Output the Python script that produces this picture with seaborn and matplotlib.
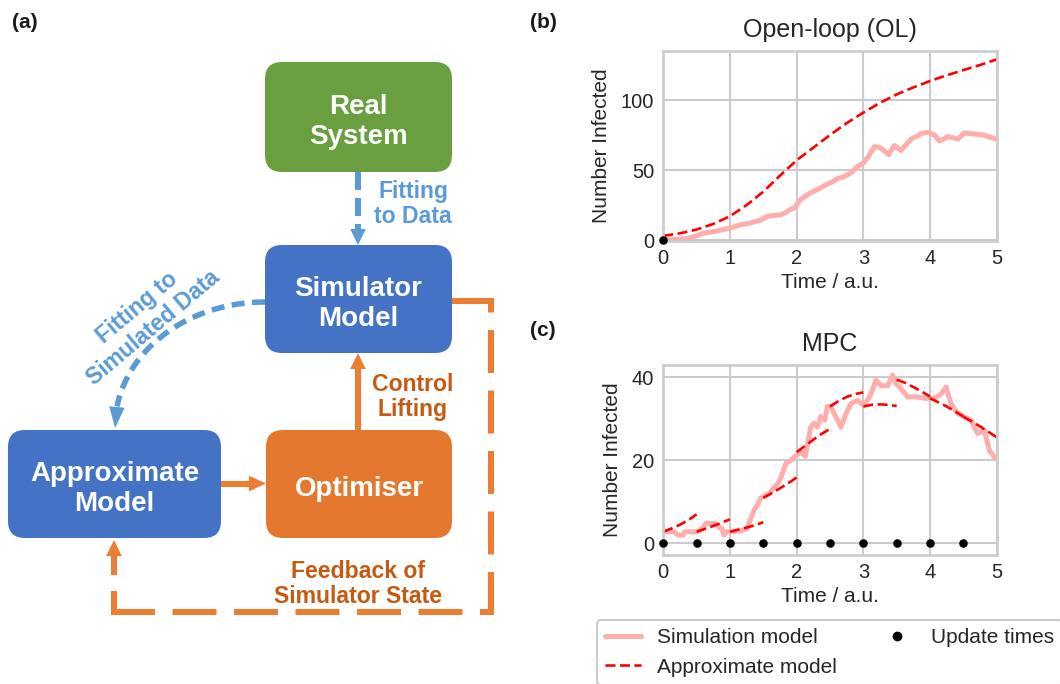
import matplotlib
matplotlib.use("Agg")
import numpy as np
import matplotlib.pyplot as plt
import seaborn as sns
from matplotlib.patches import FancyBboxPatch, Polygon
from matplotlib.lines import Line2D

# ---------------- data ----------------
# (b) open-loop: stochastic simulation and approximate model prediction
ol_sim_t = [0.0, 0.2, 0.36, 0.5, 0.61, 0.75, 0.86, 1.0, 1.1, 1.16, 1.3, 1.36, 1.45,
            1.56, 1.65, 1.76, 1.85, 1.91, 1.97, 2.06, 2.15, 2.26, 2.35, 2.46, 2.55,
            2.615, 2.7, 2.815, 2.9, 3.0, 3.08, 3.165, 3.25, 3.315, 3.38, 3.465, 3.565,
            3.64, 3.715, 3.8, 3.865, 3.965, 4.065, 4.14, 4.2, 4.265, 4.35, 4.415,
            4.515, 4.6, 4.715, 4.8, 4.865, 4.93, 5.0]
ol_sim_n = [0, 0.5, 1, 3, 5, 6, 7, 8.5, 10, 11, 12, 13, 14,
            17, 17.5, 18, 20, 22, 23, 29, 32, 35, 37, 40, 42,
            44, 45, 48, 52, 55, 60, 66.7, 66, 63.6, 61, 67.5, 64,
            68, 72, 74, 76, 77, 75, 70.7, 72, 74, 73, 72,
            76.5, 76, 75.5, 75, 74, 73, 72]
ol_approx_t = [0.0, 0.25, 0.5, 0.75, 1.0, 1.25, 1.5, 1.75, 2.0, 2.25, 2.5,
               2.75, 3.0, 3.25, 3.5, 3.75, 4.0, 4.25, 4.5, 4.75, 5.0]
ol_approx_n = [3, 4.8, 7.5, 11.5, 17, 25, 34.5, 46, 57, 66, 75,
               83.5, 91, 98, 104, 109, 113.6, 117.6, 121.4, 125, 129]
ol_update_t = [0.0]

# (c) MPC: simulation, re-fitted approximate model over each horizon, update times
mpc_sim_t = [0.0, 0.16, 0.22, 0.3, 0.32, 0.5, 0.58, 0.64, 0.79, 0.84, 0.88, 0.91,
             0.95, 1.0, 1.16, 1.26, 1.3, 1.36, 1.42, 1.46, 1.59, 1.66, 1.72, 1.76,
             1.8, 1.84, 1.91, 2.0, 2.06, 2.13, 2.17, 2.21, 2.26, 2.31, 2.36, 2.42,
             2.46, 2.515, 2.57, 2.615, 2.665, 2.74, 2.815, 2.915, 3.0, 3.06, 3.115,
             3.19, 3.265, 3.365, 3.44, 3.49, 3.565, 3.665, 3.815, 3.915, 4.065,
             4.165, 4.24, 4.315, 4.415, 4.515, 4.615, 4.715, 4.815, 4.89, 4.965, 5.0]
mpc_sim_n = [2.8, 2.8, 2.0, 2.0, 2.8, 2.8, 3.5, 4.8, 4.8, 3.8, 3.6, 2.0,
             2.8, 2.8, 3.0, 3.6, 5.5, 8.0, 9.5, 10.9, 12.0, 13.5, 14.5, 15.7,
             17.5, 19.3, 20.0, 21.3, 22.0, 21.0, 24.5, 28.0, 29.0, 28.0, 30.6, 29.7,
             33.0, 33.0, 31.0, 29.7, 28.0, 31.3, 33.7, 34.5, 33.3, 34.5, 36.0,
             39.4, 38.0, 38.0, 40.6, 38.5, 37.3, 35.3, 35.3, 35.0, 35.0,
             36.0, 37.7, 33.7, 31.3, 30.5, 29.7, 26.5, 27.3, 22.4, 20.8, 20.8]
mpc_update_t = [0.0, 0.5, 1.0, 1.5, 2.0, 2.5, 3.0, 3.5, 4.0, 4.5]
mpc_horizon = [0.0, 0.125, 0.25, 0.375, 0.5]
mpc_approx_n = [
    [2.8, 3.6, 4.5, 5.6, 7.0],
    [2.8, 3.5, 4.2, 5.0, 5.8],
    [2.8, 3.3, 3.8, 4.4, 5.1],
    [11.0, 12.1, 13.3, 14.5, 15.9],
    [22.0, 23.5, 25.0, 26.4, 27.6],
    [33.0, 34.3, 35.3, 36.0, 36.4],
    [33.0, 33.4, 33.5, 33.4, 33.1],
    [39.5, 38.7, 37.7, 36.6, 35.4],
    [35.0, 34.0, 33.0, 31.8, 30.6],
    [30.5, 29.4, 28.2, 26.9, 25.6],
]

legend_labels = ["Simulation model", "Approximate model", "Update times"]

# ---------------- style ----------------
sns.set_theme(style="whitegrid")
plt.rcParams.update({
    "axes.edgecolor": "0.8",
    "axes.linewidth": 1.9,
    "grid.color": "0.8",
    "grid.linewidth": 1.5,
    "text.color": "0.15",
    "axes.labelcolor": "0.15",
    "xtick.color": "0.15",
    "ytick.color": "0.15",
    "xtick.labelsize": 14.5,
    "ytick.labelsize": 14.5,
    "axes.labelsize": 15,
    "axes.titlesize": 18,
    "xtick.major.size": 0,
    "ytick.major.size": 0,
    "xtick.major.pad": 5.5,
    "ytick.major.pad": 6.5,
    "lines.scale_dashes": False,
})
plt.rcParams["font.family"] = ["Liberation Sans", "DejaVu Sans"]

W, H = 1060, 684
PT = 72 / 100  # points per pixel at 100 dpi

SIM_C = "#ffadad"
APP_C = "red"
SIM_LW = 3.6
APP_LW = 1.9
APP_LS = (0, (7.2, 3.2))

fig = plt.figure(figsize=(W / 100, H / 100), dpi=100)

# ---------------- (a) workflow diagram, drawn in pixel units ----------------
dg = fig.add_axes([0, 0, 1, 1], zorder=0)
dg.set_xlim(0, W)
dg.set_ylim(H, 0)
dg.axis("off")

GREEN = "#699f3e"
BLUE_BOX = "#4472c4"
ORANGE_BOX = "#e4782f"
ORANGE = "#ed7d31"
LBLUE = "#5b9bd5"
BROWN = "#c55a11"


def box(x0, y0, x1, y1, color, label):
    dg.add_patch(FancyBboxPatch((x0, y0), x1 - x0, y1 - y0,
                                boxstyle="round,pad=0,rounding_size=17",
                                facecolor=color, edgecolor="none", zorder=2))
    dg.text((x0 + x1) / 2, (y0 + y1) / 2 + 5, label, ha="center", va="center",
            color="white", fontsize=20, fontweight="bold", linespacing=1.2,
            zorder=3)


def seg(xs, ys, color, lw_px, pattern=None, offset=0.0):
    if pattern is None:
        ls = "-"
    else:
        ls = (offset * PT, tuple(p * PT for p in pattern))
    dg.add_line(Line2D(xs, ys, color=color, lw=lw_px * PT, linestyle=ls,
                       solid_capstyle="butt", dash_capstyle="butt", zorder=1))


def head(tip, base, color, w=7.8):
    tx, ty = tip
    bx, by = base
    dx, dy = tx - bx, ty - by
    n = np.hypot(dx, dy)
    nx, ny = -dy / n, dx / n
    dg.add_patch(Polygon([(bx + nx * w, by + ny * w), (bx - nx * w, by - ny * w),
                          (tx, ty)], closed=True, facecolor=color,
                         edgecolor="none", zorder=1))


box(265, 62, 452, 172, GREEN, "Real\nSystem")
box(265, 245, 452, 353, BLUE_BOX, "Simulator\nModel")
box(8, 430, 221, 538, BLUE_BOX, "Approximate\nModel")
box(266, 430, 452, 538, ORANGE_BOX, "Optimiser")

# real system -> simulator (fitting to data)
seg([358, 358], [172, 231], LBLUE, 6, pattern=(18, 8))
head((358, 245), (358, 229), LBLUE)

# simulator -> approximate model (curved, fitting to simulated data)
th = np.linspace(np.pi / 2, np.deg2rad(170.5), 120)
seg(265 + 150 * np.cos(th), 427 - 125 * np.sin(th), LBLUE, 5.5, pattern=(13, 7.5))
head((115, 428), (117, 407), LBLUE)

# optimiser -> simulator (control lifting)
seg([358, 358], [430, 366], ORANGE, 6)
head((358, 353), (358, 369), ORANGE)

# approximate model -> optimiser
seg([221, 252], [483.5, 483.5], ORANGE, 6)
head((266, 483.5), (249, 483.5), ORANGE)

# feedback of simulator state
seg([452, 494], [300.7, 300.7], ORANGE, 6)
seg([491, 491], [615, 298], ORANGE, 6, pattern=(43, 17.5))
seg([111, 494], [612, 612], ORANGE, 6, pattern=(44, 17.5))
seg([114, 114], [615, 552], ORANGE, 6, pattern=(24, 16))
head((114, 540), (114, 556), ORANGE)

dg.text(413, 204, "Fitting\nto Data", ha="center", va="center", color=LBLUE,
        fontsize=16.6, fontweight="bold", linespacing=1.15)
dg.text(413, 397, "Control\nLifting", ha="center", va="center", color=BROWN,
        fontsize=16.6, fontweight="bold", linespacing=1.15)
dg.text(358, 584, "Feedback of\nSimulator State", ha="center", va="center",
        color=BROWN, fontsize=16.6, fontweight="bold", linespacing=1.15)
dg.text(145, 318, "Fitting to\nSimulated Data", ha="center", va="center",
        rotation=40, rotation_mode="anchor", multialignment="center",
        color=LBLUE, fontsize=16.6, fontweight="bold", linespacing=1.15)

# ---------------- (b) open loop ----------------
axb = fig.add_axes([663.3 / W, 1 - 241 / H, 333.4 / W, 190 / H], zorder=2)
sns.lineplot(x=ol_sim_t, y=ol_sim_n, ax=axb, color=SIM_C, lw=SIM_LW,
             estimator=None)
sns.lineplot(x=ol_approx_t, y=ol_approx_n, ax=axb, color=APP_C, lw=APP_LW,
             linestyle=APP_LS, estimator=None)
sns.scatterplot(x=ol_update_t, y=[0] * len(ol_update_t), ax=axb, color="black",
                s=38, linewidth=0, zorder=5, clip_on=False)
axb.set_xlim(0, 5)
axb.set_ylim(-0.7, 135)
axb.set_xticks([0, 1, 2, 3, 4, 5])
axb.set_yticks([0, 50, 100])
axb.set_title("Open-loop (OL)", pad=10)
axb.set_xlabel("Time / a.u.")
axb.set_ylabel("Number Infected", labelpad=7)

# ---------------- (c) MPC ----------------
axc = fig.add_axes([663.3 / W, 1 - 555 / H, 333.4 / W, 190 / H], zorder=2)
sns.lineplot(x=mpc_sim_t, y=mpc_sim_n, ax=axc, color=SIM_C, lw=SIM_LW,
             estimator=None)
for t0, vals in zip(mpc_update_t, mpc_approx_n):
    sns.lineplot(x=[t0 + h for h in mpc_horizon], y=vals, ax=axc, color=APP_C,
                 lw=APP_LW, linestyle=APP_LS, estimator=None)
sns.scatterplot(x=mpc_update_t, y=[0] * len(mpc_update_t), ax=axc,
                color="black", s=38, linewidth=0, zorder=5, clip_on=False)
axc.set_xlim(0, 5)
axc.set_ylim(-2.8, 43)
axc.set_xticks([0, 1, 2, 3, 4, 5])
axc.set_yticks([0, 20, 40])
axc.set_title("MPC", pad=10)
axc.set_xlabel("Time / a.u.")
axc.set_ylabel("Number Infected", labelpad=7)

# panel letters
for txt, x, y in [("(a)", 12, 22), ("(b)", 530, 22), ("(c)", 530, 331)]:
    fig.text(x / W, 1 - y / H, txt, ha="left", va="center", fontsize=15,
             fontweight="bold", color="0.1")

# shared legend
handles = [
    Line2D([], [], color=SIM_C, lw=SIM_LW),
    Line2D([], [], color=APP_C, lw=APP_LW, linestyle=APP_LS),
    Line2D([], [], color="black", marker="o", linestyle="none", markersize=6),
]
leg = fig.legend(handles, legend_labels, ncol=2, loc="upper left",
                 bbox_to_anchor=(597 / W, 1 - 620 / H), fontsize=15,
                 handlelength=1.7, columnspacing=2.0, borderaxespad=0,
                 frameon=True, framealpha=1, edgecolor="0.8", fancybox=True)
leg.get_frame().set_linewidth(1.5)

fig.savefig("out.png", dpi=100)
